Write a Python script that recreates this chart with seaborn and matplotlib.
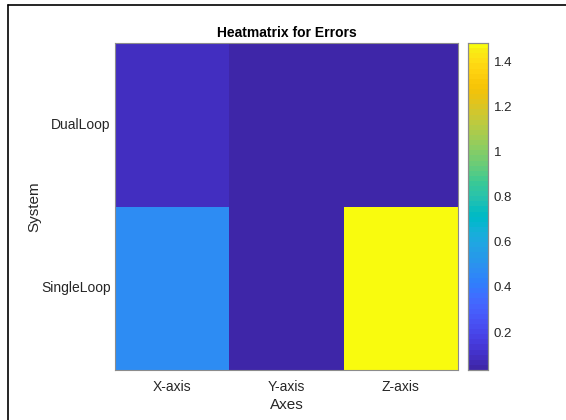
import numpy as np
import pandas as pd
import matplotlib
matplotlib.use("Agg")
import matplotlib.pyplot as plt
from matplotlib.colors import ListedColormap
from matplotlib.lines import Line2D
import seaborn as sns

# Error values per system (rows) and axis (columns)
systems = ["DualLoop", "SingleLoop"]
axes_names = ["X-axis", "Y-axis", "Z-axis"]
dualloop_err = [0.09, 0.033, 0.046]
singleloop_err = [0.47, 0.032, 1.48]

# MATLAB parula colormap (64 entries)
parula_rgb = [
    [0.2422, 0.1504, 0.6603], [0.2504, 0.1650, 0.7076], [0.2578, 0.1818, 0.7511],
    [0.2647, 0.1978, 0.7952], [0.2706, 0.2147, 0.8364], [0.2751, 0.2342, 0.8710],
    [0.2783, 0.2559, 0.8991], [0.2803, 0.2782, 0.9221], [0.2813, 0.3006, 0.9414],
    [0.2810, 0.3228, 0.9579], [0.2795, 0.3447, 0.9717], [0.2760, 0.3667, 0.9829],
    [0.2699, 0.3892, 0.9906], [0.2602, 0.4123, 0.9952], [0.2440, 0.4358, 0.9988],
    [0.2206, 0.4603, 0.9973], [0.1963, 0.4847, 0.9892], [0.1834, 0.5074, 0.9798],
    [0.1786, 0.5289, 0.9682], [0.1764, 0.5499, 0.9520], [0.1687, 0.5703, 0.9359],
    [0.1540, 0.5902, 0.9218], [0.1460, 0.6091, 0.9079], [0.1380, 0.6276, 0.8973],
    [0.1248, 0.6459, 0.8883], [0.1113, 0.6635, 0.8763], [0.0952, 0.6798, 0.8598],
    [0.0689, 0.6948, 0.8394], [0.0297, 0.7082, 0.8163], [0.0036, 0.7213, 0.7917],
    [0.0067, 0.7309, 0.7660], [0.0433, 0.7411, 0.7394], [0.0964, 0.7500, 0.7120],
    [0.1408, 0.7584, 0.6842], [0.1717, 0.7670, 0.6554], [0.1913, 0.7758, 0.6251],
    [0.2178, 0.7843, 0.5923], [0.2709, 0.7918, 0.5567], [0.3247, 0.7951, 0.5244],
    [0.3755, 0.7980, 0.4931], [0.4222, 0.7999, 0.4642], [0.4661, 0.8016, 0.4344],
    [0.5090, 0.8018, 0.4062], [0.5501, 0.8020, 0.3793], [0.5905, 0.8012, 0.3525],
    [0.6306, 0.7996, 0.3254], [0.6694, 0.7978, 0.2975], [0.7068, 0.7945, 0.2721],
    [0.7442, 0.7907, 0.2426], [0.7827, 0.7856, 0.2097], [0.8193, 0.7800, 0.1774],
    [0.8556, 0.7740, 0.1430], [0.8890, 0.7693, 0.1071], [0.9188, 0.7660, 0.0709],
    [0.9444, 0.7653, 0.0445], [0.9632, 0.7733, 0.0303], [0.9782, 0.7858, 0.0367],
    [0.9871, 0.8036, 0.0493], [0.9952, 0.8224, 0.0600], [0.9966, 0.8448, 0.0715],
    [0.9953, 0.8700, 0.0774], [0.9893, 0.8979, 0.0771], [0.9767, 0.9270, 0.0774],
    [0.9763, 0.9831, 0.0538],
]
parula = ListedColormap(parula_rgb, name="parula")

df = pd.DataFrame([dualloop_err, singleloop_err], index=systems, columns=axes_names)

sns.set_style("white")
plt.rcParams["font.family"] = ["Liberation Sans", "DejaVu Sans"]

W, H = 566, 420
fig = plt.figure(figsize=(W / 100, H / 100), dpi=100)
ax = fig.add_axes([115 / W, 1 - 370 / H, (458 - 115) / W, (370 - 43) / H])
cax = fig.add_axes([468 / W, 1 - 370 / H, (488 - 468) / W, (370 - 43) / H])

sns.heatmap(df, ax=ax, cmap=parula, cbar=True, cbar_ax=cax,
            vmin=float(df.values.min()), vmax=float(df.values.max()))

tick_col = "#262626"
edge_col = "#8c8c8c"

for a in (ax, cax):
    for s in a.spines.values():
        s.set_visible(True)
        s.set_color(edge_col)
        s.set_linewidth(0.8)

ax.tick_params(axis="both", direction="in", length=3, color=edge_col,
               labelsize=10, labelcolor=tick_col)
ax.tick_params(axis="x", top=True, pad=7)
ax.tick_params(axis="y", right=True, pad=3)
ax.set_yticklabels(systems, rotation=0)
ax.set_xticklabels(axes_names, rotation=0)

ax.set_xlabel("Axes", fontsize=11, color=tick_col, labelpad=3)
ax.set_ylabel("System", fontsize=11, color=tick_col)
ax.yaxis.set_label_coords(-0.215, 0.5)
ax.set_title("Heatmatrix for Errors", fontsize=10, fontweight="bold",
             color="black", pad=4)

cax.set_yticks([0.2, 0.4, 0.6, 0.8, 1.0, 1.2, 1.4])
cax.set_yticklabels(["0.2", "0.4", "0.6", "0.8", "1", "1.2", "1.4"])
cax.tick_params(axis="y", direction="in", length=3, color=edge_col,
                labelsize=9.5, labelcolor=tick_col, pad=4, left=True, right=True)

# Window frame on the left and top edges
fig.add_artist(Line2D([7.5 / W, 7.5 / W], [0, 1 - 4.5 / H], color="black",
                      linewidth=1.2, transform=fig.transFigure))
fig.add_artist(Line2D([7.5 / W, 1], [1 - 4.5 / H, 1 - 4.5 / H], color="black",
                      linewidth=1.2, transform=fig.transFigure))

fig.savefig("out.png", dpi=100)
